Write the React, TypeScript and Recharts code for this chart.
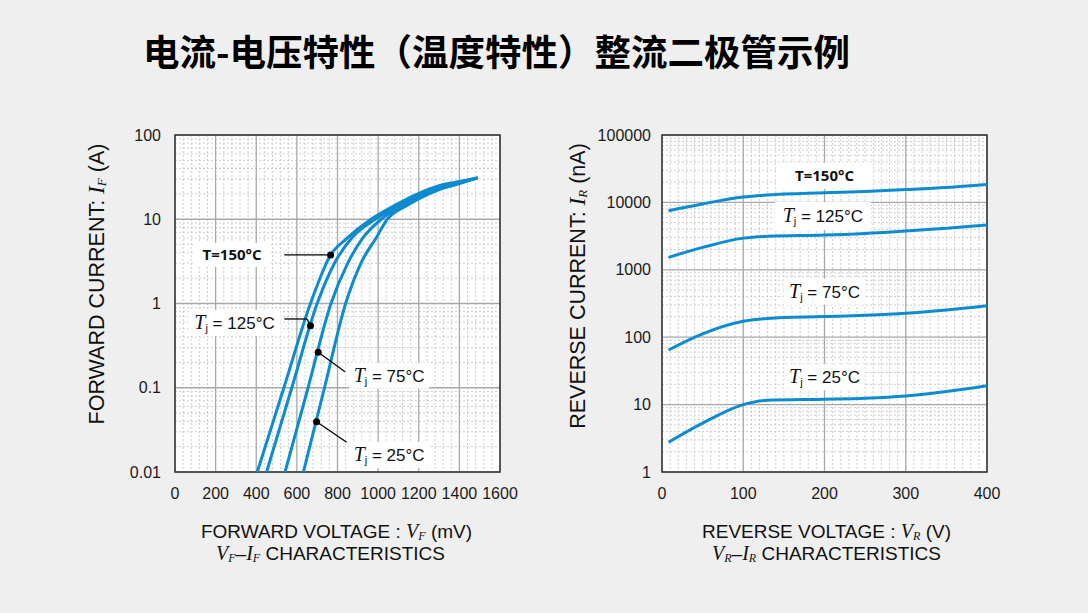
import type { ReactNode } from "react"
import {
  LineChart,
  Line,
  XAxis,
  YAxis,
  CartesianGrid,
  Label,
  ReferenceArea,
  ReferenceDot,
  ReferenceLine
} from "recharts"

const BLUE = "#0d8bd1"
const SANS = "'Liberation Sans', Arial, sans-serif"
const SERIF = "'Liberation Serif', 'Times New Roman', serif"
const TAG_FONT = "'Open Sans', 'Liberation Sans', sans-serif"
const INK = "#111"

// forward characteristics: VF (mV) against IF (A)
const vf150 = [405, 536, 667, 766, 845, 965, 1080, 1195, 1300, 1400, 1490]
const if150 = [0.01, 0.1, 1, 3.77, 5.9, 10, 14.5, 20, 25, 28, 31]
const vf125 = [451, 575, 700, 785, 870, 985, 1100, 1210, 1300, 1400, 1490]
const if125 = [0.01, 0.1, 1, 3, 6, 10, 14.5, 20, 24.5, 27.5, 31]
const vf75 = [542, 655, 768, 850, 925, 1015, 1120, 1230, 1300, 1400, 1490]
const if75 = [0.01, 0.1, 1, 3, 6, 10, 14.5, 20, 23.5, 27, 31]
const vf25 = [632, 736, 840, 915, 990, 1045, 1140, 1250, 1300, 1400, 1490]
const if25 = [0.01, 0.1, 1, 3, 6, 10, 14.5, 20, 22.5, 26.5, 31]

const vfTicks = [0, 200, 400, 600, 800, 1000, 1200, 1400, 1600]
const ifTicks = [0.01, 0.1, 1, 10, 100]

// reverse characteristics: VR (V) against IR (nA)
const vr = [8, 50, 100, 130, 200, 250, 300, 350, 400]
const ir150 = [7530, 9500, 12000, 12900, 13900, 14500, 15500, 16700, 18500]
const ir125 = [1530, 2150, 2950, 3150, 3280, 3470, 3770, 4130, 4620]
const ir75 = [64.6, 112, 172, 190, 202, 211, 226, 254, 294]
const ir25 = [2.76, 5.3, 10, 11.6, 12, 12.4, 13.4, 15.6, 19]

const vrTicks = [0, 100, 200, 300, 400]
const irTicks = [1, 10, 100, 1000, 10000, 100000]

type Pt = { v: number; i: number }
const rows = (xs: number[], ys: number[]): Pt[] => xs.map((v, k) => ({ v, i: ys[k] }))

// grid helpers
function logMinor(lo: number, hi: number) {
  const out: number[] = []
  for (let d = lo; d < hi; d++) {
    for (let k = 2; k <= 9; k++) out.push(k * Math.pow(10, d))
  }
  return out
}
function linMinor(max: number, step: number, major: number) {
  const out: number[] = []
  for (let v = step; v < max; v += step) if (v % major !== 0) out.push(v)
  return out
}

const Sub = ({ s, size = 12, drop = 3 }: { s: string; size?: number; drop?: number }) => (
  <tspan fontFamily={SERIF} fontStyle="italic" fontSize={size} dy={drop}>{s}</tspan>
)
const Ital = ({ s, size = 20 }: { s: string; size?: number }) => (
  <tspan fontFamily={SERIF} fontStyle="italic" fontSize={size}>{s}</tspan>
)

// white-boxed curve labels
function tag(content: ReactNode, w: number, h: number, bold = false) {
  return (p: any) => (
    <g>
      <rect x={p.cx - w / 2} y={p.cy - h / 2} width={w} height={h} fill="#fff" />
      <text
        x={p.cx}
        y={p.cy + (bold ? 5 : 6)}
        textAnchor="middle"
        fontFamily={bold ? TAG_FONT : SANS}
        fontWeight={bold ? 700 : 400}
        fontSize={bold ? 15 : 17}
        fill={INK}
      >
        {content}
      </text>
    </g>
  )
}
const tj = (rest: string) => (
  <>
    <tspan fontFamily={SERIF} fontStyle="italic" fontSize={20}>T</tspan>
    <tspan fontSize={11} dy={3}>j</tspan>
    <tspan dy={-3}>{rest}</tspan>
  </>
)

const curve = (data: Pt[], key: string) => (
  <Line
    key={key}
    data={data}
    dataKey="i"
    type="monotone"
    stroke={BLUE}
    strokeWidth={3}
    dot={false}
    isAnimationActive={false}
  />
)

const tickStyle = { fontFamily: SANS, fontSize: 16, fill: "#1a1a1a" }

// two-line title under a voltage axis
function voltageTitle(name: string, sub: string, unit: string, shift: number, shift2: number) {
  return (p: any) => {
    const vb = p.viewBox
    const cx = vb.x + vb.width / 2 + shift
    return (
      <g fill={INK} fontFamily={SANS} fontSize={19}>
        <text x={cx} y={vb.y + 66} textAnchor="middle">
          {name + " : "}
          <Ital s="V" />
          <Sub s={sub} drop={2} />
          <tspan dy={-2}>{` (${unit})`}</tspan>
        </text>
        <text x={cx + shift2} y={vb.y + 88} textAnchor="middle">
          <Ital s="V" />
          <Sub s={sub} drop={2} />
          <tspan dy={-2}>–</tspan>
          <Ital s="I" />
          <Sub s={sub} drop={2} />
          <tspan dy={-2}>{" CHARACTERISTICS"}</tspan>
        </text>
      </g>
    )
  }
}

// rotated title beside a current axis
function currentTitle(name: string, sub: string, unit: string, dx: number, dy: number) {
  return (p: any) => {
    const vb = p.viewBox
    const cx = vb.x + dx
    const cy = vb.y + dy
    return (
      <text
        x={cx}
        y={cy}
        transform={`rotate(-90 ${cx} ${cy})`}
        textAnchor="middle"
        fill={INK}
        fontFamily={SANS}
        fontSize={21.5}
      >
        {name + ": "}
        <Ital s="I" size={23} />
        <Sub s={sub} size={13} drop={2} />
        <tspan dy={-2}>{` (${unit})`}</tspan>
      </text>
    )
  }
}

export default function App() {
  const fwd = [
    rows(vf150, if150),
    rows(vf125, if125),
    rows(vf75, if75),
    rows(vf25, if25)
  ]
  const rev = [rows(vr, ir150), rows(vr, ir125), rows(vr, ir75), rows(vr, ir25)]

  return (
    <div style={{ position: "absolute", left: 0, top: 0, width: 1088, height: 613, background: "#efefef", overflow: "hidden" }}>
      <div
        style={{
          position: "absolute",
          left: 143,
          top: 33,
          fontFamily: "'Noto Sans CJK SC', sans-serif",
          fontWeight: 700,
          fontSize: 36.5,
          lineHeight: 1,
          color: "#000",
          whiteSpace: "nowrap"
        }}
      >
        电流-电压特性（温度特性）整流二极管示例
      </div>

      {/* forward VF-IF */}
      <div style={{ position: "absolute", left: 0, top: 0 }}>
        <LineChart width={540} height={613} margin={{ top: 135, right: 40, bottom: 0, left: 0 }}>
          <CartesianGrid
            fill="#fff"
            stroke="#cdcdcd"
            strokeDasharray="2 2"
            verticalValues={linMinor(1600, 40, 200)}
            horizontalValues={logMinor(-2, 2)}
          />
          <CartesianGrid
            stroke="#a8a8a8"
            strokeWidth={1.3}
            verticalValues={vfTicks}
            horizontalValues={ifTicks}
          />
          <XAxis
            type="number"
            dataKey="v"
            domain={[0, 1600]}
            ticks={vfTicks}
            allowDataOverflow
            axisLine={false}
            tickLine={false}
            tickSize={0}
            tickMargin={16}
            height={141}
            tick={tickStyle}
            interval={0}
          >
            <Label content={voltageTitle("FORWARD VOLTAGE", "F", "mV", -1, -6)} />
          </XAxis>
          <YAxis
            type="number"
            scale="log"
            domain={[0.01, 100]}
            ticks={ifTicks}
            allowDataOverflow
            axisLine={false}
            tickLine={false}
            tickSize={0}
            tickMargin={14}
            width={175}
            tick={tickStyle}
            interval={0}
          >
            <Label content={currentTitle("FORWARD CURRENT", "F", "A", 104, 149)} />
          </YAxis>

          <ReferenceDot x={281} y={3.77} r={1} shape={tag("T=150°C", 76, 24, true)} />
          <ReferenceDot x={293} y={0.59} r={1} shape={tag(tj(" = 125°C"), 92, 26)} />
          <ReferenceDot x={1054} y={0.139} r={1} shape={tag(tj(" = 75°C"), 80, 26)} />
          <ReferenceDot x={1054} y={0.0159} r={1} shape={tag(tj(" = 25°C"), 80, 26)} />

          {fwd.map((d, k) => curve(d, `f${k}`))}

          <ReferenceLine segment={[{ x: 538, y: 3.77 }, { x: 766, y: 3.77 }]} stroke="#000" strokeWidth={1.3} />
          <ReferenceLine segment={[{ x: 538, y: 0.655 }, { x: 650, y: 0.655 }]} stroke="#000" strokeWidth={1.3} />
          <ReferenceLine segment={[{ x: 650, y: 0.655 }, { x: 667, y: 0.546 }]} stroke="#000" strokeWidth={1.3} />
          <ReferenceLine segment={[{ x: 705, y: 0.264 }, { x: 837, y: 0.155 }]} stroke="#000" strokeWidth={1.3} />
          <ReferenceLine segment={[{ x: 697, y: 0.0395 }, { x: 845, y: 0.0225 }]} stroke="#000" strokeWidth={1.3} />
          <ReferenceDot x={766} y={3.77} r={3.5} fill="#000" stroke="none" />
          <ReferenceDot x={667} y={0.546} r={3.5} fill="#000" stroke="none" />
          <ReferenceDot x={705} y={0.264} r={3.5} fill="#000" stroke="none" />
          <ReferenceDot x={697} y={0.0395} r={3.5} fill="#000" stroke="none" />

          <ReferenceArea x1={0} x2={1600} y1={0.01} y2={100} fill="none" stroke="#333" strokeWidth={1.5} />
        </LineChart>
      </div>

      {/* reverse VR-IR */}
      <div style={{ position: "absolute", left: 520, top: 0 }}>
        <LineChart width={520} height={613} margin={{ top: 135, right: 53, bottom: 0, left: 0 }}>
          <CartesianGrid
            fill="#fff"
            stroke="#cdcdcd"
            strokeDasharray="2 2"
            verticalValues={linMinor(400, 10, 100)}
            horizontalValues={logMinor(0, 5)}
          />
          <CartesianGrid
            stroke="#a8a8a8"
            strokeWidth={1.3}
            verticalValues={vrTicks}
            horizontalValues={irTicks}
          />
          <XAxis
            type="number"
            dataKey="v"
            domain={[0, 400]}
            ticks={vrTicks}
            allowDataOverflow
            axisLine={false}
            tickLine={false}
            tickSize={0}
            tickMargin={16}
            height={141}
            tick={tickStyle}
            interval={0}
          >
            <Label content={voltageTitle("REVERSE VOLTAGE", "R", "V", 2, 0)} />
          </XAxis>
          <YAxis
            type="number"
            scale="log"
            domain={[1, 100000]}
            ticks={irTicks}
            allowDataOverflow
            axisLine={false}
            tickLine={false}
            tickSize={0}
            tickMargin={11}
            width={142}
            tick={tickStyle}
            interval={0}
          >
            <Label content={currentTitle("REVERSE CURRENT", "R", "nA", 65, 151)} />
          </YAxis>

          <ReferenceDot x={200} y={24900} r={1} shape={tag("T=150°C", 96, 26, true)} />
          <ReferenceDot x={198} y={6280} r={1} shape={tag(tj(" = 125°C"), 96, 28)} />
          <ReferenceDot x={200} y={473} r={1} shape={tag(tj(" = 75°C"), 82, 26)} />
          <ReferenceDot x={200} y={25.4} r={1} shape={tag(tj(" = 25°C"), 80, 26)} />

          {rev.map((d, k) => curve(d, `r${k}`))}

          <ReferenceArea x1={0} x2={400} y1={1} y2={100000} fill="none" stroke="#333" strokeWidth={1.5} />
        </LineChart>
      </div>
    </div>
  )
}
